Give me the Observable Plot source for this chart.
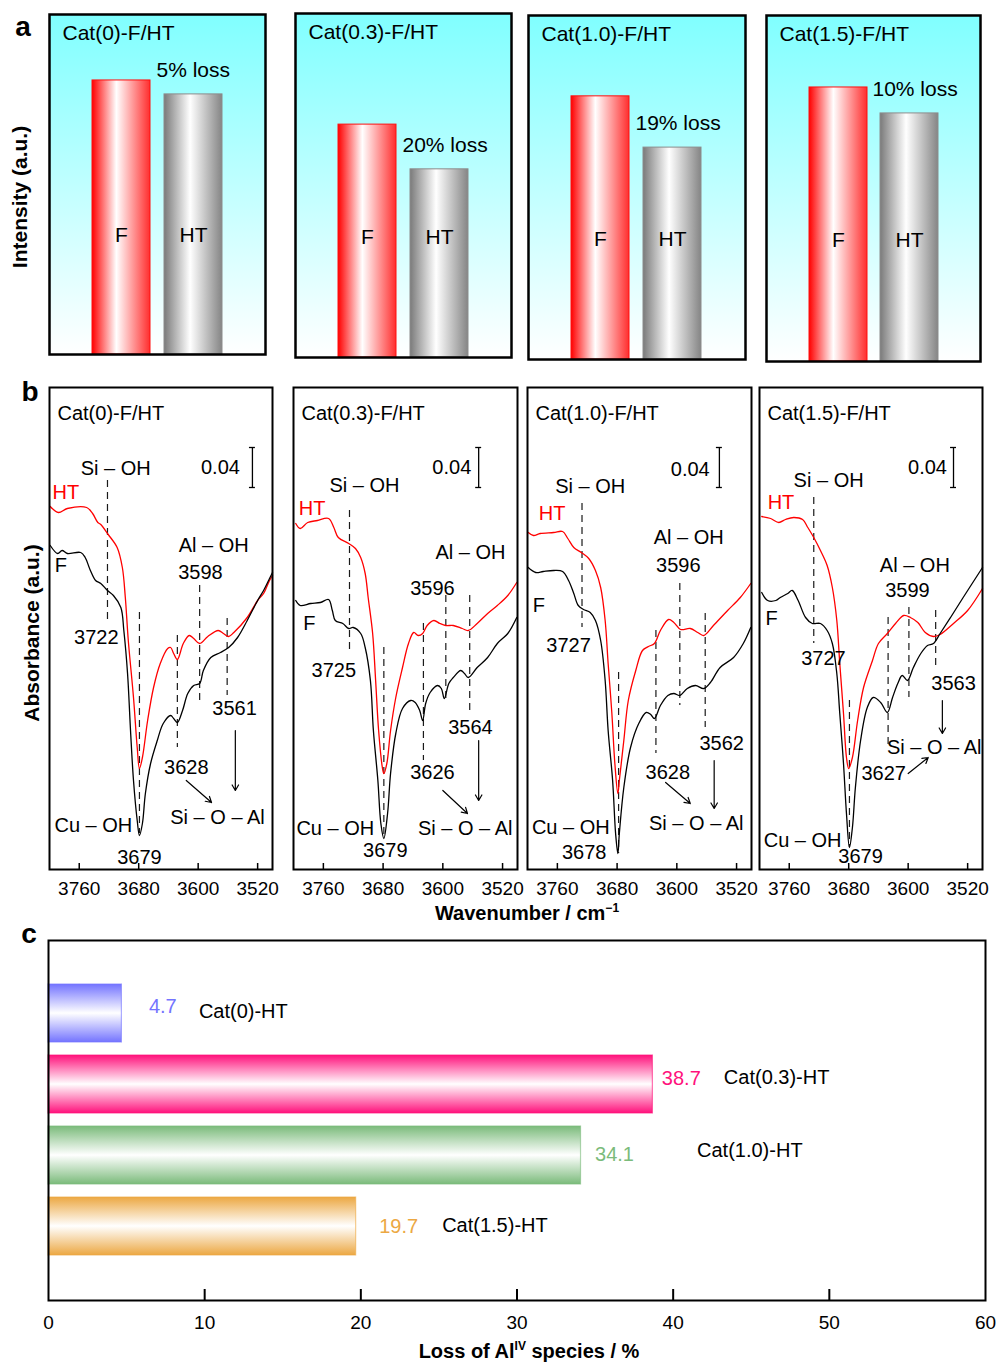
<!DOCTYPE html>
<html>
<head>
<meta charset="utf-8">
<script src="https://cdn.jsdelivr.net/npm/d3@7"></script>
<script src="https://cdn.jsdelivr.net/npm/@observablehq/plot@0.6"></script>
<style>
html,body{margin:0;padding:0;background:#fff;}
#root{position:relative;width:998px;height:1363px;overflow:hidden;font-family:"Liberation Sans",Arial,Helvetica,sans-serif;color:#000;background:#fff;}
.lbl{position:absolute;white-space:nowrap;transform:translate(-50%,-50%);font-weight:bold;line-height:1.15;}
.lbl sup{font-size:60%;vertical-align:super;line-height:0;}
</style>
</head>
<body>
<div id="root"></div>
<script>
const FONT = '"Liberation Sans", Arial, Helvetica, sans-serif';

// ---------------- Panel a data ----------------
const aSamples = ["Cat(0)-F/HT", "Cat(0.3)-F/HT", "Cat(1.0)-F/HT", "Cat(1.5)-F/HT"];
const aBars = ["F", "HT"];
const aIntensityF = [0.806, 0.677, 0.765, 0.792];
const aIntensityHT = [0.765, 0.547, 0.616, 0.717];
const aLossLabels = ["5% loss", "20% loss", "19% loss", "10% loss"];

// ---------------- Panel b data ----------------
const bSamples = ["Cat(0)-F/HT", "Cat(0.3)-F/HT", "Cat(1.0)-F/HT", "Cat(1.5)-F/HT"];
const bTicks = [3760, 3680, 3600, 3520];

// spectra: [wavenumber, absorbance]
const specHT0 = [[3799,0.363],[3788,0.357],[3776,0.361],[3750,0.362],[3742,0.356],[3735,0.347],[3731,0.345],[3721,0.335],[3709,0.322],[3702,0.302],[3698,0.272],[3694,0.229],[3687,0.172],[3682,0.122],[3679,0.101],[3675,0.112],[3668,0.149],[3660,0.182],[3651,0.206],[3641,0.221],[3637,0.222],[3633,0.216],[3628,0.210],[3620,0.226],[3612,0.234],[3606,0.231],[3598,0.226],[3587,0.233],[3573,0.239],[3566,0.236],[3559,0.233],[3552,0.237],[3534,0.252],[3520,0.269],[3512,0.276],[3504,0.289],[3500,0.294]];
const specF0 = [[3799,0.324],[3789,0.316],[3783,0.319],[3776,0.316],[3758,0.317],[3752,0.312],[3745,0.299],[3738,0.289],[3731,0.286],[3722,0.279],[3714,0.274],[3704,0.262],[3700,0.239],[3695,0.196],[3691,0.139],[3687,0.089],[3682,0.049],[3679,0.034],[3675,0.046],[3671,0.076],[3664,0.106],[3655,0.129],[3647,0.146],[3637,0.154],[3633,0.151],[3628,0.147],[3621,0.159],[3614,0.176],[3606,0.184],[3598,0.186],[3593,0.199],[3583,0.212],[3570,0.217],[3559,0.222],[3547,0.232],[3534,0.249],[3520,0.269],[3512,0.279],[3504,0.291],[3500,0.297]];
const specHT1 = [[3797,0.346],[3791,0.341],[3781,0.347],[3768,0.349],[3753,0.351],[3746,0.342],[3740,0.332],[3726,0.326],[3717,0.321],[3710,0.312],[3704,0.296],[3700,0.272],[3694,0.236],[3690,0.189],[3686,0.139],[3681,0.102],[3679,0.096],[3675,0.106],[3670,0.139],[3663,0.172],[3654,0.202],[3646,0.226],[3639,0.237],[3633,0.234],[3627,0.236],[3621,0.244],[3612,0.249],[3604,0.246],[3596,0.244],[3586,0.244],[3574,0.241],[3566,0.239],[3554,0.246],[3540,0.256],[3527,0.264],[3513,0.274],[3501,0.287]];
const specF1 = [[3797,0.269],[3791,0.264],[3777,0.266],[3764,0.267],[3753,0.270],[3748,0.259],[3744,0.249],[3734,0.246],[3726,0.241],[3720,0.242],[3710,0.236],[3704,0.222],[3697,0.189],[3693,0.139],[3687,0.089],[3683,0.046],[3679,0.031],[3674,0.056],[3670,0.096],[3663,0.136],[3654,0.161],[3643,0.169],[3637,0.167],[3631,0.159],[3627,0.149],[3623,0.166],[3617,0.177],[3607,0.184],[3602,0.181],[3598,0.171],[3592,0.186],[3586,0.192],[3576,0.199],[3571,0.196],[3566,0.192],[3554,0.202],[3540,0.212],[3527,0.226],[3513,0.236],[3501,0.252]];
const specHT2 = [[3799,0.337],[3792,0.334],[3783,0.336],[3765,0.337],[3753,0.338],[3746,0.331],[3738,0.322],[3728,0.317],[3718,0.311],[3709,0.299],[3702,0.282],[3696,0.249],[3692,0.206],[3687,0.156],[3683,0.106],[3679,0.076],[3677,0.089],[3671,0.129],[3665,0.169],[3655,0.199],[3646,0.219],[3638,0.223],[3630,0.226],[3622,0.239],[3611,0.250],[3604,0.247],[3595,0.240],[3582,0.241],[3572,0.237],[3564,0.234],[3551,0.244],[3532,0.259],[3515,0.272],[3501,0.286]];
const specF2 = [[3799,0.302],[3789,0.297],[3779,0.298],[3765,0.299],[3753,0.298],[3745,0.289],[3738,0.276],[3732,0.264],[3725,0.260],[3716,0.257],[3709,0.249],[3702,0.229],[3696,0.189],[3692,0.139],[3686,0.089],[3682,0.036],[3679,0.016],[3677,0.036],[3671,0.082],[3662,0.122],[3651,0.146],[3641,0.157],[3635,0.155],[3630,0.151],[3622,0.164],[3612,0.174],[3604,0.176],[3596,0.174],[3586,0.181],[3575,0.184],[3564,0.181],[3555,0.187],[3542,0.202],[3524,0.212],[3511,0.226],[3501,0.242]];
const specHT3 = [[3797,0.353],[3785,0.351],[3774,0.347],[3765,0.350],[3754,0.352],[3742,0.350],[3735,0.342],[3727,0.332],[3718,0.319],[3709,0.304],[3702,0.282],[3696,0.249],[3692,0.206],[3687,0.156],[3683,0.112],[3680,0.101],[3675,0.112],[3668,0.149],[3660,0.182],[3648,0.209],[3640,0.226],[3628,0.236],[3617,0.246],[3606,0.254],[3597,0.252],[3587,0.247],[3577,0.237],[3566,0.233],[3557,0.235],[3539,0.246],[3520,0.259],[3500,0.281]];
const specF3 = [[3797,0.277],[3789,0.269],[3778,0.269],[3772,0.272],[3762,0.276],[3756,0.279],[3748,0.269],[3738,0.252],[3729,0.246],[3718,0.246],[3709,0.239],[3702,0.226],[3696,0.196],[3692,0.156],[3687,0.106],[3683,0.056],[3679,0.022],[3675,0.042],[3671,0.082],[3664,0.129],[3655,0.162],[3647,0.172],[3637,0.167],[3628,0.157],[3621,0.172],[3614,0.186],[3608,0.194],[3601,0.189],[3593,0.202],[3583,0.216],[3574,0.224],[3566,0.226],[3557,0.236],[3543,0.252],[3526,0.272],[3500,0.302]];

// marked bands: [wavenumber, absorbance from, absorbance to]
const dashes0 = [[3722,0.389,0.249],[3679,0.257,0.036],[3628,0.234,0.122],[3598,0.284,0.166],[3561,0.251,0.174]];
const dashes1 = [[3725,0.359,0.219],[3679,0.222,0.032],[3626,0.246,0.109],[3596,0.274,0.169],[3564,0.274,0.156]];
const dashes2 = [[3727,0.366,0.242],[3678,0.197,0.016],[3628,0.239,0.116],[3596,0.286,0.164],[3562,0.256,0.142]];
const dashes3 = [[3727,0.372,0.226],[3679,0.169,0.022],[3627,0.252,0.122],[3599,0.262,0.172],[3563,0.259,0.199]];

// annotations: [text, wavenumber, absorbance]
const notes0 = [["Si – OH",3711,0.401],["0.04",3570,0.402],["3722",3737,0.232],["Al – OH",3579,0.324],["3598",3597,0.297],["3561",3551,0.161],["3628",3616,0.102],["Si – O – Al",3574,0.052],["Cu – OH",3741,0.044],["3679",3679,0.012]];
const notes1 = [["Si – OH",3705,0.384],["0.04",3588,0.402],["3725",3746,0.199],["Al – OH",3563,0.317],["3596",3614,0.281],["3564",3563,0.142],["3626",3614,0.097],["Si – O – Al",3570,0.041],["Cu – OH",3744,0.041],["3679",3677,0.019]];
const notes2 = [["Si – OH",3716,0.383],["0.04",3582,0.400],["3727",3745,0.224],["Al – OH",3584,0.332],["3596",3598,0.304],["3562",3540,0.126],["3628",3612,0.097],["Si – O – Al",3574,0.046],["Cu – OH",3742,0.042],["3678",3724,0.017]];
const notes3 = [["Si – OH",3707,0.389],["0.04",3574,0.402],["3727",3714,0.211],["Al – OH",3591,0.304],["3599",3601,0.279],["3563",3539,0.186],["Si – O – Al",3565,0.122],["3627",3633,0.096],["Cu – OH",3742,0.029],["3679",3664,0.013]];

// curve labels: [text, wavenumber, absorbance]
const curveLabels0 = [["HT",3796,0.377],["F",3793,0.304]];
const curveLabels1 = [["HT",3793,0.361],["F",3787,0.246]];
const curveLabels2 = [["HT",3785,0.356],["F",3793,0.264]];
const curveLabels3 = [["HT",3789,0.367],["F",3792,0.251]];

// arrows: [wn1, A1, wn2, A2]
const arrows0 = [[3550,0.139,3550,0.079],[3616,0.089,3582,0.067]];
const arrows1 = [[3552,0.129,3552,0.069],[3600,0.079,3567,0.056]];
const arrows2 = [[3550,0.109,3550,0.061],[3615,0.087,3582,0.066]];
const arrows3 = [[3554,0.169,3554,0.136],[3600,0.096,3573,0.112]];

// 0.04 absorbance scale bar position (wavenumber)
const scaleBarWn = [3527, 3552, 3543, 3539];
const scaleBarA = [0.382, 0.422];

// ---------------- Panel c data ----------------
const cSamples = ["Cat(0)-HT", "Cat(0.3)-HT", "Cat(1.0)-HT", "Cat(1.5)-HT"];
const cLoss = [4.7, 38.7, 34.1, 19.7];
const cColors = ["#7474ff", "#ff127c", "#7bbb7b", "#eca843"];
const cTicks = [0, 10, 20, 30, 40, 50, 60];

// ---------------- helpers ----------------
const root = document.getElementById("root");
const baseStyle = {fontFamily: FONT, fontSize: "19px", overflow: "visible", background: "transparent", color: "#000"};
function place(svg, left, top) {
  svg.style.position = "absolute";
  svg.style.left = left + "px";
  svg.style.top = top + "px";
  svg.style.maxWidth = "none";
  root.appendChild(svg);
}
function addGradient(svg, id, vertical, stops) {
  let defs = d3.select(svg).select("defs");
  if (defs.empty()) defs = d3.select(svg).insert("defs", ":first-child");
  const g = defs.append("linearGradient").attr("id", id)
    .attr("x1", 0).attr("y1", 0).attr("x2", vertical ? 0 : 1).attr("y2", vertical ? 1 : 0);
  stops.forEach(([o, c]) => g.append("stop").attr("offset", o).attr("stop-color", c));
}
function label(html, cx, cy, size, rotate) {
  const d = document.createElement("div");
  d.className = "lbl";
  d.innerHTML = html;
  d.style.left = cx + "px";
  d.style.top = cy + "px";
  d.style.fontSize = size + "px";
  if (rotate) d.style.transform = "translate(-50%,-50%) rotate(-90deg)";
  root.appendChild(d);
}

// ---------------- Panel a ----------------
const aFrames = [[49,14,216,340],[295,13,216,344],[528,15,217,344],[766,15,214,346]];
aSamples.forEach((name, i) => {
  const [x0, y0, w, h] = aFrames[i];
  const m = 3;
  const rows = [{bar: "F", v: aIntensityF[i]}, {bar: "HT", v: aIntensityHT[i]}];
  const svg = Plot.plot({
    width: w + 2 * m, height: h + 2 * m, margin: m,
    style: baseStyle,
    x: {type: "band", domain: aBars, paddingInner: 0.19, paddingOuter: 0.595, axis: null},
    y: {domain: [0, 1], axis: null},
    marks: [
      Plot.frame({fill: `url(#abg${i})`}),
      Plot.barY([rows[0]], {x: "bar", y: "v", fill: `url(#aF${i})`, stroke: "#ff1010", strokeWidth: 1}),
      Plot.barY([rows[1]], {x: "bar", y: "v", fill: `url(#aH${i})`, stroke: "#8c8c8c", strokeWidth: 1}),
      Plot.text(rows, {x: "bar", y: () => 0.35, text: "bar", fontSize: 21}),
      Plot.text([rows[1]], {x: "bar", y: "v", text: () => aLossLabels[i], textAnchor: "start", dx: -37, dy: -24, fontSize: 21}),
      Plot.text([name], {frameAnchor: "top-left", text: d => d, dx: 13, dy: 11, lineAnchor: "top", textAnchor: "start", fontSize: 21}),
      Plot.frame({stroke: "#000", strokeWidth: 2.5})
    ]
  });
  addGradient(svg, `abg${i}`, true, [[0, "#80ffff"], [1, "#ffffff"]]);
  addGradient(svg, `aF${i}`, false, [[0, "#ff0000"], [0.42, "#ffffff"], [1, "#ff2e2e"]]);
  addGradient(svg, `aH${i}`, false, [[0, "#7a7a7a"], [0.45, "#ffffff"], [1, "#858585"]]);
  place(svg, x0 - m, y0 - m);
});

// ---------------- Panel b ----------------
const bFramesX = [[49,272],[293,517],[527,751],[759,982]];
const bTop = 387, bBottom = 869;
const bSpecHT = [specHT0, specHT1, specHT2, specHT3];
const bSpecF = [specF0, specF1, specF2, specF3];
const bDashes = [dashes0, dashes1, dashes2, dashes3];
const bNotes = [notes0, notes1, notes2, notes3];
const bCurveLabels = [curveLabels0, curveLabels1, curveLabels2, curveLabels3];
const bArrows = [arrows0, arrows1, arrows2, arrows3];

bSamples.forEach((name, i) => {
  const [x0, x1] = bFramesX[i];
  const W = x1 - x0, H = bBottom - bTop;
  const bw = scaleBarWn[i];
  const svg = Plot.plot({
    width: W + 4, height: H + 2 + 34,
    marginLeft: 2, marginRight: 2, marginTop: 2, marginBottom: 34,
    style: baseStyle,
    x: {domain: [3800, 3500], ticks: bTicks, tickSize: 0, tickPadding: 12, tickFormat: d => String(d), label: null},
    y: {domain: [0, H / 1000], axis: null},
    marks: [
      Plot.ruleX(bTicks, {insetTop: H - 6, stroke: "#000", strokeWidth: 1.5}),
      Plot.ruleX(bDashes[i], {x: d => d[0], y1: d => d[1], y2: d => d[2], stroke: "#1a1a1a", strokeWidth: 1.2, strokeDasharray: "7,5"}),
      Plot.line(bSpecHT[i], {x: d => d[0], y: d => d[1], stroke: "#ff0000", strokeWidth: 1.3, curve: "catmull-rom"}),
      Plot.line(bSpecF[i], {x: d => d[0], y: d => d[1], stroke: "#000", strokeWidth: 1.3, curve: "catmull-rom"}),
      Plot.ruleX([bw], {x: d => d, y1: scaleBarA[0], y2: scaleBarA[1], stroke: "#000", strokeWidth: 1.3}),
      Plot.ruleY(scaleBarA, {y: d => d, x1: bw + 4, x2: bw - 4, stroke: "#000", strokeWidth: 1.3}),
      Plot.text(bNotes[i], {x: d => d[1], y: d => d[2], text: d => d[0], fontSize: 20, fill: "#000"}),
      Plot.text([bCurveLabels[i][0]], {x: d => d[1], y: d => d[2], text: d => d[0], fontSize: 20, fill: "#ff0000", textAnchor: "start"}),
      Plot.text([bCurveLabels[i][1]], {x: d => d[1], y: d => d[2], text: d => d[0], fontSize: 20, fill: "#000", textAnchor: "start"}),
      Plot.arrow(bArrows[i], {x1: d => d[0], y1: d => d[1], x2: d => d[2], y2: d => d[3], stroke: "#000", strokeWidth: 1.2, headLength: 8}),
      Plot.text([name], {frameAnchor: "top-left", text: d => d, dx: 8, dy: 18, lineAnchor: "top", textAnchor: "start", fontSize: 20}),
      Plot.frame({stroke: "#000", strokeWidth: 2})
    ]
  });
  place(svg, x0 - 2, bTop - 2);
});

// ---------------- Panel c ----------------
const cValDx = [27, 9, 14, 23];
const cValDy = [-7, -6, -1, 0];
const cCatDx = [77, 71, 116, 86];
const cCatDy = [-2, -7, -5, -1];
{
  const H = 360;
  const marks = [];
  cSamples.forEach((s, i) => {
    marks.push(Plot.barX([i], {x: j => cLoss[j], y: j => cSamples[j], fill: `url(#cg${i})`, stroke: cColors[i], strokeOpacity: 0.6, strokeWidth: 1.2}));
    marks.push(Plot.text([i], {x: j => cLoss[j], y: j => cSamples[j], text: j => cLoss[j].toFixed(1), fill: cColors[i], textAnchor: "start", dx: cValDx[i], dy: cValDy[i], fontSize: 20}));
    marks.push(Plot.text([i], {x: j => cLoss[j], y: j => cSamples[j], text: j => cSamples[j], fill: "#000", textAnchor: "start", dx: cCatDx[i], dy: cCatDy[i], fontSize: 20}));
  });
  marks.push(Plot.ruleX(cTicks.slice(1, -1), {insetTop: H - 11, stroke: "#000", strokeWidth: 2}));
  marks.push(Plot.frame({stroke: "#000", strokeWidth: 2}));
  const svg = Plot.plot({
    width: 998, height: 10 + H + 63,
    marginLeft: 48, marginRight: 13, marginTop: 10, marginBottom: 63,
    style: baseStyle,
    x: {domain: [0, 60], ticks: cTicks, tickSize: 0, tickPadding: 15, label: null},
    y: {type: "band", domain: cSamples, paddingInner: 0.177, paddingOuter: 0.593, axis: null},
    marks
  });
  cColors.forEach((c, i) => addGradient(svg, `cg${i}`, true, [[0, c], [0.5, "#ffffff"], [1, c]]));
  place(svg, 0, 930);
}

// ---------------- titles / panel letters ----------------
label("a", 23, 27, 28);
label("b", 30, 392, 28);
label("c", 29, 934, 28);
label("Intensity (a.u.)", 20, 197, 21, true);
label("Absorbance (a.u.)", 32, 633, 21, true);
label("Wavenumber / cm<sup>−1</sup>", 527, 913, 20);
label("Loss of Al<sup>IV</sup> species / %", 529, 1351, 20);
</script>
</body>
</html>
